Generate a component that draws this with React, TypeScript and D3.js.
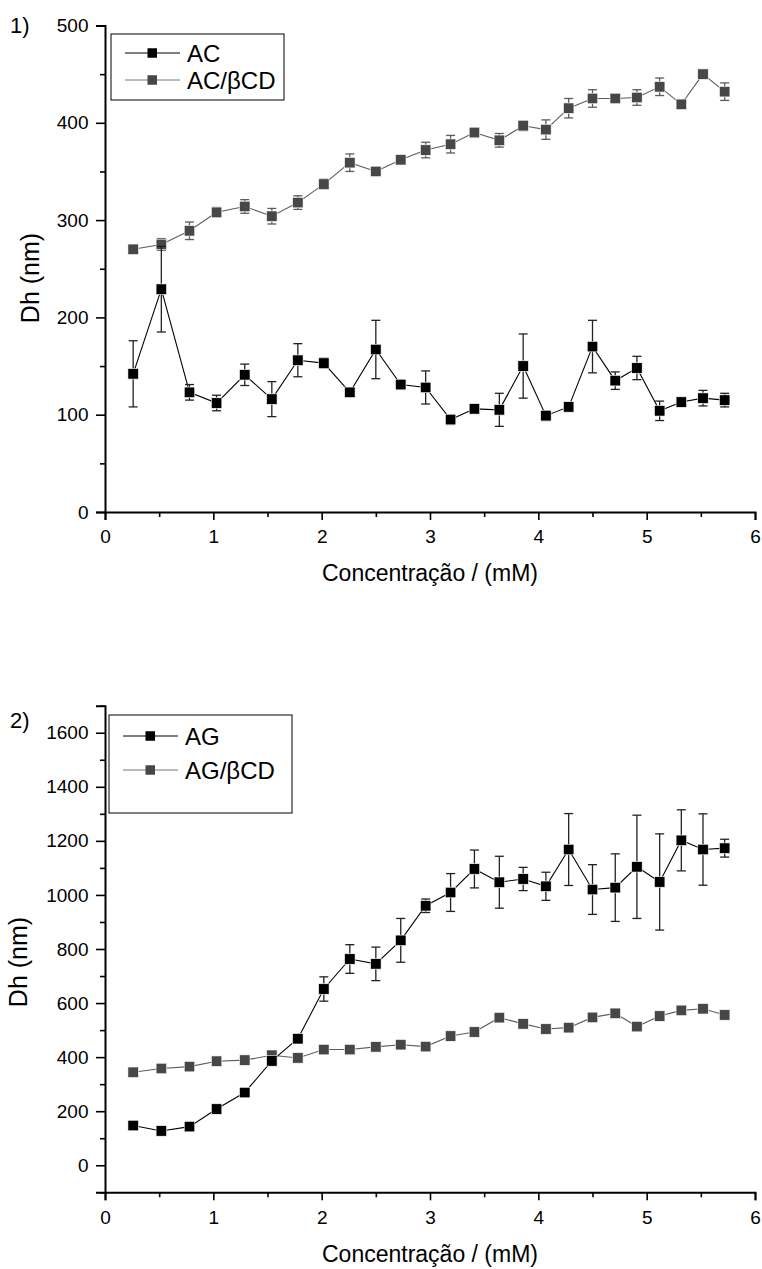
import React, { useEffect, useRef } from 'react';
import * as d3 from 'd3';

// concentration (mM), same for all series
const conc = [0.26, 0.52, 0.78, 1.03, 1.29, 1.54, 1.78, 2.02, 2.26, 2.5, 2.73, 2.96, 3.19, 3.41, 3.64, 3.86, 4.07, 4.28, 4.5, 4.71, 4.91, 5.12, 5.32, 5.52, 5.72];

// panel 1
const acVals = [142, 229, 123, 112, 141, 116, 156, 153, 123, 167, 131, 128, 95, 106, 105, 150, 99, 108, 170, 135, 148, 104, 113, 117, 115];
const acErr = [34, 44, 8, 8, 11, 18, 17, 5, 3, 30, 5, 17, 5, 2, 17, 33, 5, 4, 27, 9, 12, 10, 2, 8, 7];
const acCdVals = [270, 275, 289, 308, 314, 304, 318, 337, 359, 350, 362, 372, 378, 390, 382, 397, 393, 415, 425, 425, 426, 437, 419, 450, 432];
const acCdErr = [0, 6, 9, 5, 7, 8, 7, 5, 9, 3, 2, 8, 9, 5, 7, 5, 10, 10, 9, 2, 8, 9, 0, 3, 9];

// panel 2
const agVals = [147, 127, 143, 208, 269, 386, 468, 652, 763, 745, 832, 960, 1009, 1096, 1047, 1059, 1032, 1168, 1020, 1027, 1104, 1048, 1202, 1168, 1173];
const agErr = [0, 0, 0, 0, 0, 0, 0, 45, 53, 62, 81, 25, 70, 70, 96, 43, 52, 133, 92, 125, 191, 178, 113, 132, 33];
const agCdVals = [344, 358, 365, 385, 389, 407, 397, 428, 428, 438, 446, 439, 478, 493, 546, 523, 504, 509, 547, 562, 513, 552, 573, 579, 556];
const agCdErr = [0, 0, 0, 0, 0, 0, 0, 0, 0, 0, 0, 0, 0, 0, 0, 0, 0, 0, 0, 0, 0, 0, 0, 0, 0];

const xMajor = [0, 1, 2, 3, 4, 5, 6];
const xMinor = [0.5, 1.5, 2.5, 3.5, 4.5, 5.5];
const y1Major = [0, 100, 200, 300, 400, 500];
const y1Minor = [50, 150, 250, 350, 450];
const y2Major = [0, 200, 400, 600, 800, 1000, 1200, 1400, 1600];
const y2Minor = [-100, 100, 300, 500, 700, 900, 1100, 1300, 1500, 1700];

const FONT = "'Liberation Sans', Arial, sans-serif";
const BLACK = '#000000';
const GRAY = '#474747';
const GRAY_LINE = '#5c5c5c';

type Series = { name: string; vals: number[]; err: number[]; color: string; lineColor: string };

const drawPanel = (
  root: d3.Selection<SVGGElement, unknown, null, undefined>,
  opts: {
    top: number; bottom: number; yDomain: [number, number];
    yMajor: number[]; yMinor: number[]; series: Series[];
    label: string; labelY: number; yTitleX: number; yTitleY: number; xTitleY: number;
    legend: { x: number; y: number; w: number; h: number; row0: number; rowGap: number };
  }
) => {
  const left = 105, right = 755;
  const x = d3.scaleLinear().domain([0, 6]).range([left, right]);
  const y = d3.scaleLinear().domain(opts.yDomain).range([opts.bottom, opts.top]);

  const g = root.append('g');

  // axes
  const xAx = g.append('g').attr('transform', `translate(0,${opts.bottom})`)
    .call(d3.axisBottom(x).tickValues(xMajor).tickSize(8).tickPadding(10).tickFormat(d3.format('d')));
  const xMin = g.append('g').attr('transform', `translate(0,${opts.bottom})`)
    .call(d3.axisBottom(x).tickValues(xMinor).tickSize(5).tickFormat(() => ''));
  const yAx = g.append('g').attr('transform', `translate(${left},0)`)
    .call(d3.axisLeft(y).tickValues(opts.yMajor).tickSize(9).tickPadding(7.5).tickFormat(d3.format('d')));
  const yMin = g.append('g').attr('transform', `translate(${left},0)`)
    .call(d3.axisLeft(y).tickValues(opts.yMinor).tickSize(5).tickFormat(() => ''));

  [xAx, xMin, yAx, yMin].forEach(a => {
    a.select('.domain').attr('stroke', BLACK).attr('stroke-width', 2);
    a.selectAll('.tick line').attr('stroke', BLACK).attr('stroke-width', 1.6);
    a.selectAll('.tick text').attr('font-family', FONT).attr('font-size', 19).attr('fill', BLACK);
  });
  xMin.select('.domain').remove();
  yMin.select('.domain').remove();

  // axis titles
  g.append('text')
    .attr('x', (left + right) / 2).attr('y', opts.xTitleY)
    .attr('text-anchor', 'middle').attr('font-family', FONT).attr('font-size', 23)
    .text('Concentração / (mM)');
  g.append('text')
    .attr('transform', `translate(${opts.yTitleX},${opts.yTitleY}) rotate(-90)`)
    .attr('text-anchor', 'middle').attr('font-family', FONT).attr('font-size', 25)
    .text('Dh (nm)');
  g.append('text')
    .attr('x', 10).attr('y', opts.labelY)
    .attr('font-family', FONT).attr('font-size', 22)
    .text(opts.label);

  // series: draw gray first, black on top
  [...opts.series].reverse().forEach(s => {
    const pts = conc.map((c, i) => ({ c, v: s.vals[i], e: s.err[i] }));
    const line = d3.line<{ c: number; v: number }>().x(d => x(d.c)).y(d => y(d.v));
    g.append('path').datum(pts).attr('d', line).attr('fill', 'none')
      .attr('stroke', s.lineColor).attr('stroke-width', 1.1);

    const eb = g.append('g').attr('stroke', s.color === BLACK ? '#222' : GRAY_LINE).attr('stroke-width', 1.3);
    pts.filter(d => d.e > 0).forEach(d => {
      eb.append('line').attr('x1', x(d.c)).attr('x2', x(d.c)).attr('y1', y(d.v - d.e)).attr('y2', y(d.v + d.e));
      [d.v - d.e, d.v + d.e].forEach(v => {
        eb.append('line').attr('x1', x(d.c) - 4.5).attr('x2', x(d.c) + 4.5).attr('y1', y(v)).attr('y2', y(v));
      });
    });

    g.append('g').selectAll('rect').data(pts).enter().append('rect')
      .attr('x', d => x(d.c) - 5.25).attr('y', d => y(d.v) - 5.25)
      .attr('width', 10.5).attr('height', 10.5)
      .attr('fill', s.color).attr('stroke', '#ffffff').attr('stroke-width', 0.6);
  });

  // legend
  const L = opts.legend;
  const lg = g.append('g');
  lg.append('rect').attr('x', L.x).attr('y', L.y).attr('width', L.w).attr('height', L.h)
    .attr('fill', '#ffffff').attr('stroke', BLACK).attr('stroke-width', 1);
  opts.series.forEach((s, i) => {
    const ry = L.row0 + i * L.rowGap;
    lg.append('line').attr('x1', L.x + 14).attr('x2', L.x + 69).attr('y1', ry).attr('y2', ry)
      .attr('stroke', s.color === BLACK ? BLACK : '#777').attr('stroke-width', 1);
    lg.append('rect').attr('x', L.x + 36.5).attr('y', ry - 4.75).attr('width', 9.5).attr('height', 9.5).attr('fill', s.color);
    lg.append('text').attr('x', L.x + 76).attr('y', ry + 8.5)
      .attr('font-family', FONT).attr('font-size', 24).text(s.name);
  });
};

const App = () => {
  const ref = useRef<SVGSVGElement>(null);

  useEffect(() => {
    const svg = d3.select(ref.current);
    svg.selectAll('*').remove();
    const root = svg.append('g') as d3.Selection<SVGGElement, unknown, null, undefined>;

    drawPanel(root, {
      top: 25.5, bottom: 512, yDomain: [0, 500], yMajor: y1Major, yMinor: y1Minor,
      series: [
        { name: 'AC', vals: acVals, err: acErr, color: BLACK, lineColor: BLACK },
        { name: 'AC/βCD', vals: acCdVals, err: acCdErr, color: GRAY, lineColor: GRAY_LINE },
      ],
      label: '1)', labelY: 33, yTitleX: 38.5, yTitleY: 278, xTitleY: 581,
      legend: { x: 111, y: 34, w: 173, h: 66, row0: 53, rowGap: 27 },
    });

    drawPanel(root, {
      top: 705.7, bottom: 1192.3, yDomain: [-100, 1700], yMajor: y2Major, yMinor: y2Minor,
      series: [
        { name: 'AG', vals: agVals, err: agErr, color: BLACK, lineColor: BLACK },
        { name: 'AG/βCD', vals: agCdVals, err: agCdErr, color: GRAY, lineColor: GRAY_LINE },
      ],
      label: '2)', labelY: 728, yTitleX: 27, yTitleY: 962, xTitleY: 1261.5,
      legend: { x: 109, y: 715, w: 183, h: 98, row0: 736, rowGap: 34 },
    });
  }, []);

  return (
    <svg ref={ref} width={762} height={1269}
      style={{ position: 'absolute', left: 0, top: 0, background: '#ffffff' }} />
  );
};

export default App;
